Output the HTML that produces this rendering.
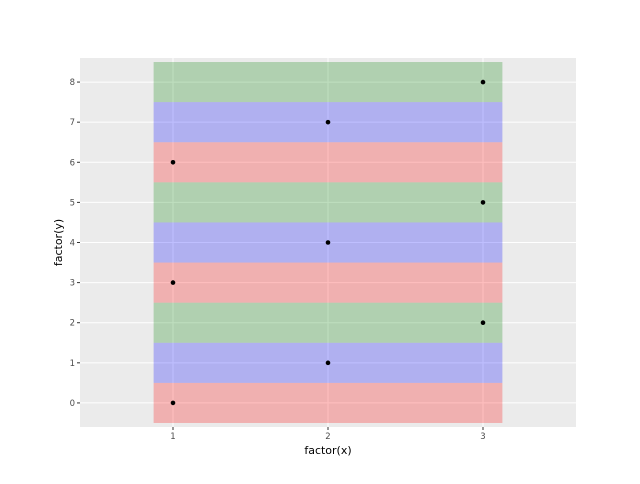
<!DOCTYPE html>
<html><head><meta charset="utf-8"><style>
body{margin:0;background:#fff;font-family:"DejaVu Sans","Liberation Sans",sans-serif}
</style></head><body>
<svg id="c" width="640" height="480" xmlns="http://www.w3.org/2000/svg" font-family="DejaVu Sans, Liberation Sans, sans-serif"></svg>
<script>
const xCats=['1','2','3'];
const yCats=['0','1','2','3','4','5','6','7','8'];
const pointX=['1','2','3','1','2','3','1','2','3'];
const pointY=['0','1','2','3','4','5','6','7','8'];
const bandColors=['red','blue','green','red','blue','green','red','blue','green'];
const bandXmin=0.875, bandXmax=3.125;

const L=80,R=576,T=58,B=427;
const NS='http://www.w3.org/2000/svg';
const svg=document.getElementById('c');
function xs(v){return L+(v-0.4)/(xCats.length+0.2)*(R-L);}
function ys(v){return B-(v+0.6)/(yCats.length+0.2)*(B-T);}
function xi(c){return xCats.indexOf(c)+1;}
function yi(c){return yCats.indexOf(c);}
function mk(t,a,p){const e=document.createElementNS(NS,t);for(const k in a)e.setAttribute(k,a[k]);(p||svg).appendChild(e);return e;}

const panel=mk('rect',{x:L,y:T,width:R-L,height:B-T,fill:'#ebebeb'});


xCats.forEach((c,i)=>{const x=xs(i+1);
 const g=mk('line',{x1:x,x2:x,y1:T,y2:B,stroke:'#fff','stroke-width':1});
 
 
 const t=mk('line',{x1:x,x2:x,y1:B,y2:B+3,stroke:'#333'});
 
 
 const l=mk('text',{x:x,y:B+12,'text-anchor':'middle','font-size':8.5,fill:'#4d4d4d'});l.textContent=c;
 
 
});
yCats.forEach((c,i)=>{const y=ys(i);
 const g=mk('line',{x1:L,x2:R,y1:y,y2:y,stroke:'#fff','stroke-width':1});
 
 
 const t=mk('line',{x1:L-3,x2:L,y1:y,y2:y,stroke:'#333'});
 
 
 const l=mk('text',{x:L-5,y:y+3,'text-anchor':'end','font-size':8.5,fill:'#4d4d4d'});l.textContent=c;
 
 
});
yCats.forEach((c,i)=>{
 const r=mk('rect',{x:xs(bandXmin),width:xs(bandXmax)-xs(bandXmin),y:ys(i+0.5),height:ys(i-0.5)-ys(i+0.5),fill:bandColors[i],'fill-opacity':0.25});
 
 
});
pointX.forEach((c,i)=>{
 const p=mk('circle',{cx:xs(xi(c)),cy:ys(yi(pointY[i])),r:2.3,fill:'#000'});
 
 
});
const xt=mk('text',{x:(L+R)/2,y:454,'text-anchor':'middle','font-size':11,fill:'#000'});xt.textContent='factor(x)';


const yt=mk('text',{x:0,y:0,'text-anchor':'middle','font-size':11,fill:'#000',transform:`translate(62,${(T+B)/2}) rotate(-90)`});yt.textContent='factor(y)';


</script>
</body></html>
